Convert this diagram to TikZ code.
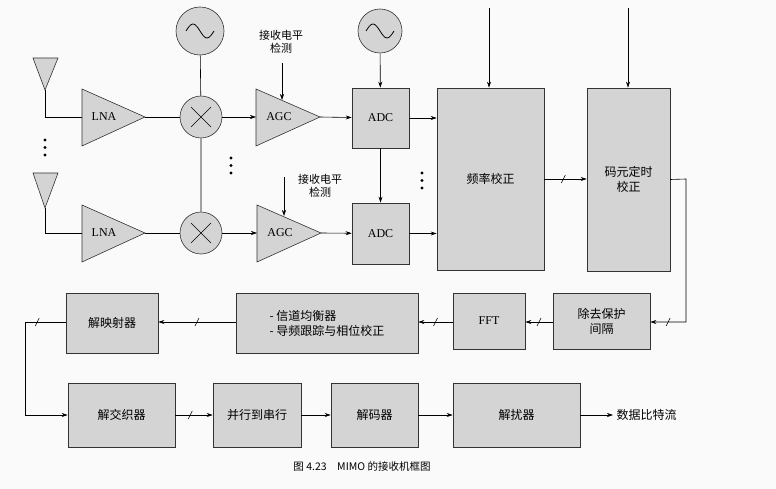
\documentclass[tikz,border=0pt]{standalone}
\usepackage{fontspec}
\setmainfont{Liberation Serif}
\newfontfamily\cjk{Noto Sans CJK SC}
\usetikzlibrary{arrows.meta,calc}
\begin{document}
\begin{tikzpicture}[x=1pt,y=-1pt,
  blk/.style={draw=black!80,fill=black!17,line width=0.6pt},
  ar/.style={-{Stealth[length=6pt,width=4pt]},line width=0.6pt},
  ln/.style={line width=0.6pt},
  slash/.pic={\draw[-,line width=0.6pt] (-2,4)--(2,-4);},
  lat/.style={font=\fontsize{12}{14}\selectfont},
  txt/.style={font=\cjk\fontsize{12}{15}\selectfont,align=center}]
\fill[black!2] (0,0) rectangle (776,489);
\useasboundingbox (0,0) rectangle (776,489);
% antennas
\draw[blk] (33,58)--(58,58)--(45,90)--cycle;
\draw[blk] (33,173)--(58,173)--(45,208)--cycle;
\coordinate (an1) at (45,90); \coordinate (an2) at (45,208);
% LNA
\draw[blk] (82,89)--(145,117)--(82,146)--cycle;
\draw[blk] (82,205)--(145,233)--(82,262)--cycle;
\node[lat] (lna1) at (104,117) {LNA};
\node[lat] (lna2) at (104,233) {LNA};
\coordinate (lna1in) at (82,117); \coordinate (lna2in) at (82,233);
\coordinate (lna1o) at (145,117); \coordinate (lna2o) at (145,233);
\draw[ln] (an1)|-(lna1in);
\draw[ln] (an2)|-(lna2in);
% mixers
\node[blk,circle,minimum size=42pt,inner sep=0] (m1) at (201,117) {};
\node[blk,circle,minimum size=42pt,inner sep=0] (m2) at (201,233) {};
\foreach \m in {m1,m2}{\draw[ln] ($(\m)+(-10,-10)$)--($(\m)+(10,10)$) ($(\m)+(-10,10)$)--($(\m)+(10,-10)$);}
\node[blk,circle,minimum size=48pt,inner sep=0] (o1) at (200,31) {};
\node[blk,circle,minimum size=44pt,inner sep=0] (o2) at (380,31) {};
\foreach \o in {o1,o2}{\draw[line width=0.8pt] ($(\o)+(-14,0)$) sin ($(\o)+(-7,-7)$) cos ($(\o)+(0,0)$) sin ($(\o)+(7,7)$) cos ($(\o)+(14,0)$);}
\draw[ln] (o1)--(m1) (m1)--(m2);
\draw[ln] (lna1o)--(m1); \draw[ln] (lna2o)--(m2);
% AGC
\draw[blk] (256,89)--(320,117)--(256,146)--cycle;
\draw[blk] (257,205)--(321,233)--(257,262)--cycle;
\node[lat] (agc1) at (279,117) {AGC};
\node[lat] (agc2) at (280,233) {AGC};
\coordinate (agc1in) at (256,117); \coordinate (agc2in) at (257,233);
\coordinate (agc1o) at (320,117); \coordinate (agc2o) at (321,233);
\draw[ar] (m1)--(agc1in); \draw[ar] (m2)--(agc2in);
\node[txt,font=\cjk\fontsize{11}{13}\selectfont] (l1) at (281,42) {接收电平\\检测};
\node[txt,font=\cjk\fontsize{11}{13}\selectfont] (l2) at (320,186) {接收电平\\检测};
\coordinate (l1a) at (282,63); \coordinate (l1b) at (282,100);
\coordinate (l2a) at (284,177); \coordinate (l2b) at (284,216);
\draw[ar] (l1a)--(l1b); \draw[ar] (l2a)--(l2b);
% ADC
\node[blk,minimum width=57pt,minimum height=60pt,lat] (adc1) at (380.5,118) {ADC};
\node[blk,minimum width=57pt,minimum height=61pt,lat] (adc2) at (380.5,233.5) {ADC};
\draw[ar] (agc1o)--(adc1); \draw[ar] (agc2o)--(adc2);
\draw[ar] (o2)--(adc1); \draw[ar] (adc1)--(adc2);
% dots
\foreach \x/\y in {45/140,231/158,422/173}{\foreach \d in {0,7.5,15}{\fill (\x,\y+\d) circle (1.7pt);}}
% freq / timing
\node[blk,minimum width=107pt,minimum height=182pt,txt] (fq) at (490.5,179) {频率校正};
\node[blk,minimum width=83pt,minimum height=183pt,txt] (sy) at (628.5,179.5) {码元定时\\校正};
\draw[ar] (adc1.east)--(adc1.east-|fq.west);
\draw[ar] (adc2.east)--(adc2.east-|fq.west);
\coordinate (fqt) at (489,8); \coordinate (syt) at (628,8);
\draw[ar] (fqt)--(fqt|-fq.north); \draw[ar] (syt)--(syt|-sy.north);
\draw[ar] (fq.east)--pic[pos=.45]{slash}(fq.east-|sy.west);
% row 2
\node[blk,minimum width=97pt,minimum height=56pt,txt] (gi) at (601.5,321) {除去保护\\间隔};
\node[blk,minimum width=72pt,minimum height=56pt,lat] (fft) at (489,321) {FFT};
\node[blk,minimum width=182pt,minimum height=60pt,txt,align=left] (eq) at (327,323) {- 信道均衡器\\- 导频跟踪与相位校正};
\node[blk,minimum width=92pt,minimum height=60pt,txt] (dm) at (112,323) {解映射器};
\coordinate (c1) at (686,179); \coordinate (c2) at (686,322);
\draw[ar] (sy.east)--(c1)--(c2)--pic[pos=.5]{slash}(c2-|gi.east);
\draw[ar] (gi.west|-c2)--pic[pos=.5]{slash}(c2-|fft.east);
\draw[ar] (fft.west|-c2)--pic[pos=.5]{slash}(c2-|eq.east);
\draw[ar] (eq.west|-c2)--pic[pos=.5]{slash}(c2-|dm.east);
% row 3
\node[blk,minimum width=107pt,minimum height=64pt,txt] (di) at (121.5,415) {解交织器};
\node[blk,minimum width=88pt,minimum height=64pt,txt] (ps) at (257,415) {并行到串行};
\node[blk,minimum width=87pt,minimum height=64pt,txt] (dc) at (374.5,415) {解码器};
\node[blk,minimum width=127pt,minimum height=64pt,txt] (ds) at (516.5,415) {解扰器};
\node[txt,anchor=west] (out) at (613,415) {数据比特流};
\coordinate (d1) at (25,322); \coordinate (d2) at (25,415);
\draw[ln] (dm.west|-c2)--pic[pos=.7]{slash}(d1);
\draw[ar] (d1)--(d2)--(di.west);
\draw[ar] (di)--pic[pos=.4]{slash}(ps);
\draw[ar] (ps)--(dc); \draw[ar] (dc)--(ds); \draw[ar] (ds)--(out);
\node[font=\cjk\fontsize{10.5}{12}\selectfont] (cap) at (362,466) {图 4.23\quad MIMO 的接收机框图};
\end{tikzpicture}
\end{document}
